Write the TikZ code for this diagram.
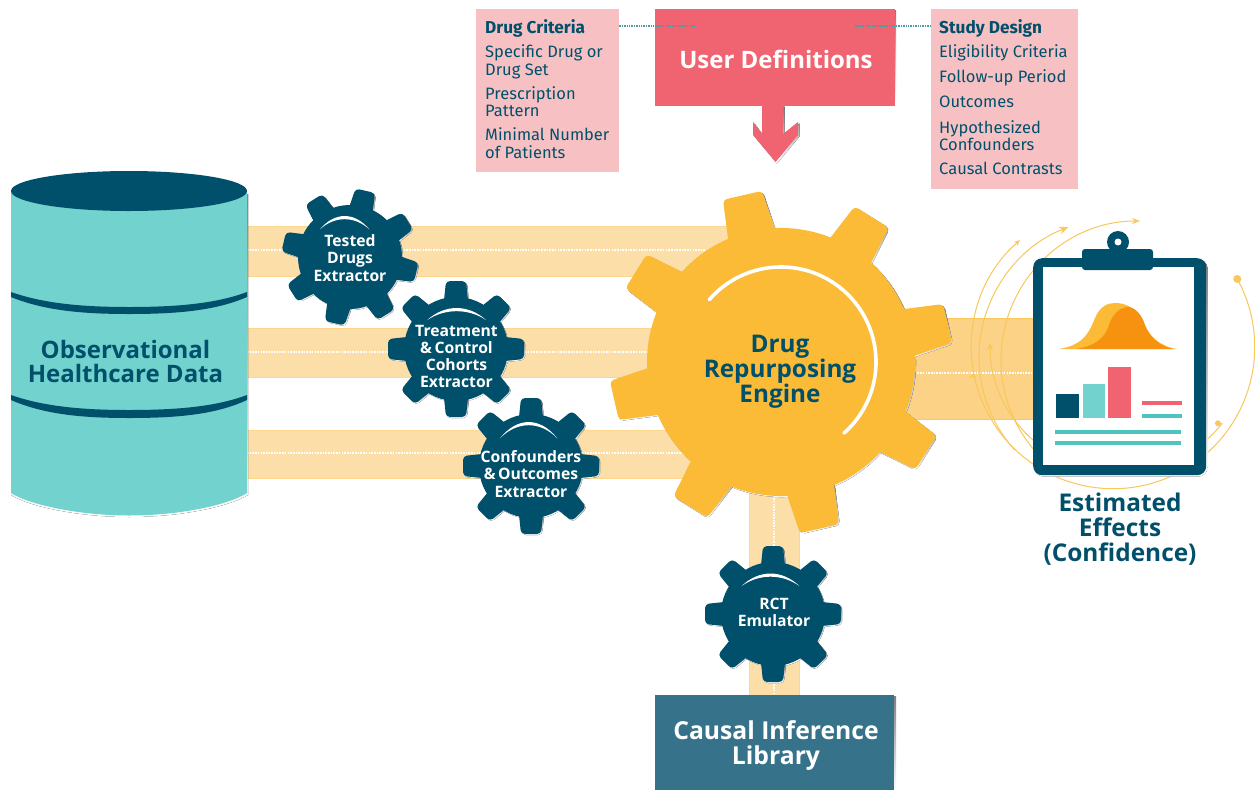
\documentclass[tikz,border=0pt]{standalone}
\usepackage{fontspec}
\setmainfont{Fira Sans}
\newfontfamily\labelfont{Open Sans}
\usetikzlibrary{arrows.meta,calc}
\definecolor{navy}{HTML}{00506B}
\definecolor{tealc}{HTML}{72D2CD}
\definecolor{tealline}{HTML}{4EC4BE}
\definecolor{sun}{HTML}{FBBB36}
\definecolor{orbitc}{HTML}{F9C75C}
\definecolor{redc}{HTML}{EF6470}
\definecolor{pinkc}{HTML}{F7C1C4}
\definecolor{libc}{HTML}{36738A}
\definecolor{bandc}{HTML}{FCDFA8}
\definecolor{bandedge}{HTML}{FBD68C}
\definecolor{bandr}{HTML}{FBD286}
\definecolor{orangec}{HTML}{F6920F}
\definecolor{shade}{HTML}{9A9A90}
\definecolor{linkc}{HTML}{4E9AA0}
\tikzset{
  bandh/.style={line width=1pt,draw=bandedge,double=bandc,double distance=#1},
  banddots/.style={draw=white,line width=1.6pt,dash pattern=on 1.6pt off 1.1pt},
  orbit/.style={draw=orbitc,line width=1pt},
  teach/.style={draw=tealline,line width=4pt},
  label/.style={inner sep=0pt,align=center},
  gearlabel/.style={inner sep=0pt,align=center,text=white,font=\labelfont\bfseries\fontsize{15.7}{17.2}\selectfont},
  listtext/.style={inner sep=0pt,align=left,text=navy,anchor=north west,font=\fontsize{16.5}{17.5}\selectfont},
  linkdots/.style={draw=linkc,line width=2pt,dash pattern=on 1.4pt off 1pt},
}
% #1 cx, #2 cy, #3 body radius, #4 tip radius, #5 tip width, #6 base width, #7 rotation, #8 colour
\newcommand\gearbody[8]{%
  \begin{scope}[shift={(#1pt,-#2pt)},x=1pt,y=1pt,rotate=#7]
    \fill[#8] (0,0) circle[radius=#3];
    \foreach \k in {0,45,...,315}{
      \fill[#8,rotate=\k,rounded corners=4pt]
        (#3-8,-#6/2) -- (#4,-#5/2) -- (#4,#5/2) -- (#3-8,#6/2) -- cycle;
    }
  \end{scope}}
\newcommand\geardraw[8]{%
  \gearbody{\the\numexpr#1+1\relax}{\the\numexpr#2+1\relax}{#3}{#4}{#5}{#6}{#7}{shade}
  \gearbody{#1}{#2}{#3}{#4}{#5}{#6}{#7}{#8}}
\newcommand\gearsmile[4]{%
  \fill[white] (#1,#3) .. controls ({#1+(#2-#1)*0.3},{#4-(#3-#4)*0.33}) and ({#2-(#2-#1)*0.3},{#4-(#3-#4)*0.33}) .. (#2,#3)
     .. controls ({#2-(#2-#1)*0.3},{#4-(#3-#4)*0.33+4.2}) and ({#1+(#2-#1)*0.3},{#4-(#3-#4)*0.33+4.2}) .. (#1,#3) -- cycle;}
\begin{document}
\begin{tikzpicture}[x=1pt,y=-1pt]
\useasboundingbox (0,0) rectangle (1255,790);
\fill[white] (0,0) rectangle (1255,790);

% named band ends
\coordinate (b1s) at (247,251); \coordinate (b1e) at (735,251);
\coordinate (b2s) at (247,352.5); \coordinate (b2e) at (660,352.5);
\coordinate (b3s) at (247,454); \coordinate (b3e) at (690,454);
\coordinate (brs) at (900,368.5); \coordinate (bre) at (1036,368.5);
\coordinate (bvs) at (774,490); \coordinate (bve) at (774,696);
\coordinate (d1s) at (247,250); \coordinate (d1e) at (705,250);
\coordinate (d2s) at (247,352); \coordinate (d2e) at (650,352);
\coordinate (d3s) at (247,453); \coordinate (d3e) at (685,453);
\coordinate (drs) at (912,373); \coordinate (dre) at (1032,373);

% bands
\draw[bandh=49pt] (b1s) -- (b1e);
\draw[bandh=48pt] (b2s) -- (b2e);
\draw[bandh=47pt] (b3s) -- (b3e);
\draw[line width=1pt,draw=orbitc,double=bandr,double distance=100pt] (brs) -- (bre);
\draw[bandh=49pt] (bvs) -- (bve);
\draw[banddots] (d1s) -- (d1e);
\draw[banddots] (d2s) -- (d2e);
\draw[banddots] (d3s) -- (d3e);
\draw[banddots] (drs) -- (dre);
\draw[banddots] (bvs) -- (bve);

% database cylinder
\fill[shade] (11,194) -- (11,495) .. controls (30,507) and (80,517) .. (129,517)
   .. controls (180,517) and (228,507) .. (248,495) -- (248,194) -- cycle;
\fill[tealc] (11,191) -- (11,493) .. controls (30,505) and (80,515.5) .. (129,515.5)
   .. controls (180,515.5) and (228,505) .. (247,493) -- (247,191) -- cycle;
\fill[navy] (129,191) ellipse[x radius=118,y radius=20];
\fill[navy] (11,292) .. controls (45,304) and (85,307) .. (129,307) .. controls (175,307) and (215,304) .. (247,292)
   -- (247,297) .. controls (215,311) and (175,314) .. (129,314) .. controls (85,314) and (45,311) .. (11,297) -- cycle;
\fill[navy] (11,395) .. controls (45,407) and (85,410) .. (129,410) .. controls (175,410) and (215,407) .. (247,395)
   -- (247,400) .. controls (215,415) and (175,418) .. (129,418) .. controls (85,418) and (45,415) .. (11,400) -- cycle;
\node[label,text=navy,font=\labelfont\bfseries\fontsize{24}{24.5}\selectfont] (obs) at (125.5,361.5) {Observational\\Healthcare Data};

% big gear
\geardraw{781}{362}{134}{171}{40}{49}{13}{sun}
\begin{scope}[shift={(781pt,-362pt)},x=1pt,y=1pt]
  \draw[white,line width=3.6pt,line cap=round] (139:95) arc[start angle=139,end angle=-48.5,radius=95];
\end{scope}
\node[label,text=navy,font=\labelfont\bfseries\fontsize{24.3}{25}\selectfont] (engine) at (780,371.5) {Drug\\Repurposing\\Engine};

% small gears
\geardraw{350}{257}{52}{68}{20}{25}{32}{navy}
\gearsmile{320}{369.3}{229.3}{216}
\node[gearlabel] (g1) at (350,258) {Tested\\Drugs\\Extractor};
\geardraw{456}{349}{52}{68}{20}{25}{0}{navy}
\gearsmile{427.3}{486}{320}{308}
\node[gearlabel] (g2) at (456.5,356.5) {Treatment\\\&\,Control\\Cohorts\\Extractor};
\geardraw{531}{466}{52}{68}{20}{25}{0}{navy}
\gearsmile{500}{557.3}{438.3}{422}
\node[gearlabel] (g3) at (531,474) {Confounders\\\&\,Outcomes\\Extractor};
\geardraw{773}{614}{52}{68}{20}{25}{0}{navy}
\gearsmile{741.7}{799.3}{586}{573.5}
\node[gearlabel] (g4) at (774,612.5) {RCT\\Emulator};

% library
\fill[shade] (656.5,696) rectangle (896,790);
\node[fill=libc,minimum width=239pt,minimum height=95pt,anchor=north west,inner sep=0pt] (lib) at (655,695) {};
\node[label,text=white,font=\labelfont\bfseries\fontsize{24.7}{25}\selectfont] (libt) at (776,745.5) {Causal Inference\\Library};

% user definitions
\fill[shade] (656.5,10) rectangle (896,107);
\fill[shade,shift={(1.5pt,-1.5pt)}] (762,105) -- (783,105) -- (783,134) -- (798,122) -- (798,135) -- (775.5,162) -- (753,135) -- (753,122) -- (762,134) -- cycle;
\node[fill=redc,minimum width=240pt,minimum height=97pt,anchor=north west,inner sep=0pt] (user) at (655,8.5) {};
\fill[redc] (762,105) -- (783,105) -- (783,134) -- (798,122) -- (798,135) -- (775.5,162) -- (753,135) -- (753,122) -- (762,134) -- cycle;
\node[label,text=white,font=\labelfont\bfseries\fontsize{24}{25}\selectfont] (usert) at (776,59) {User Definitions};

% side lists
\node[fill=pinkc,minimum width=143pt,minimum height=163pt,anchor=north west,inner sep=0pt] (drugbox) at (476,8.5) {};
\node[fill=pinkc,minimum width=147pt,minimum height=180pt,anchor=north west,inner sep=0pt] (studybox) at (931,8.5) {};
\coordinate (dL) at (695,26); \coordinate (dR) at (855,26);
\draw[linkdots] (drugbox.east |- dL) -- (dL);
\draw[linkdots] (studybox.west |- dR) -- (dR);
\node[listtext] (drugt) at (485,19.5) {\textbf{\fontsize{17.2}{17.5}\selectfont Drug Criteria}\\[6.5pt]Specific Drug or\\Drug Set\\[6.5pt]Prescription\\Pattern\\[6.5pt]Minimal Number\\of Patients};
\node[listtext] (studyt) at (939,19.5) {\textbf{\fontsize{17.2}{17.5}\selectfont Study Design}\\[6.5pt]Eligibility Criteria\\[7.5pt]Follow-up Period\\[7.5pt]Outcomes\\[8pt]Hypothesized\\Confounders\\[6.5pt]Causal Contrasts};

% orbits
\begin{scope}[x=1pt,y=1pt]
  \begin{scope}[shift={(1113pt,-347pt)}]
    \draw[orbit,-{Stealth[length=6pt,width=5pt]}] (28.7:141.7) arc[start angle=28.7,end angle=-229,radius=141.7];
    \fill[orbitc] (28.7:141.7) circle[radius=4];
    \fill[orbitc] (191:143) -- ++(-4,-3) -- ++(8,0) -- cycle;
  \end{scope}
  \begin{scope}[shift={(1118pt,-357pt)}]
    \draw[orbit,{Stealth[length=9pt,width=8pt]}-] (111:139) arc[start angle=111,end angle=222,radius=139];
  \end{scope}
  \begin{scope}[shift={(1140pt,-360pt)}]
    \draw[orbit,{Stealth[length=8pt,width=6pt]}-] (90:139) arc[start angle=90,end angle=222,radius=139];
  \end{scope}
  \begin{scope}[shift={(1117pt,-343pt)}]
    \draw[orbit,{Stealth[length=7pt,width=6pt]}-] (180:127) arc[start angle=180,end angle=322,radius=130];
    \fill[orbitc] (-38.5:129) circle[radius=3];
  \end{scope}
\end{scope}

% clipboard
\fill[shade,rounded corners=9pt] (1034.5,259.5) rectangle (1207.5,476.5);
\node[fill=navy,rounded corners=9pt,minimum width=173pt,minimum height=217pt,anchor=north west,inner sep=0pt] (clip) at (1033,258) {};
\fill[white] (1043,267) rectangle (1194,465);
\fill[navy] (1118,242) circle[radius=11];
\fill[white] (1118,242) circle[radius=3.5];
\fill[navy,rounded corners=3pt] (1082,249) rectangle (1153,270);
% bell curves
\fill[sun] (1059,349) .. controls (1085,345) and (1090,330) .. (1095,318) .. controls (1100,306) and (1108,303) .. (1115,303)
   .. controls (1125,303) and (1135,307) .. (1142,320) .. controls (1150,338) and (1160,346) .. (1177,349) -- cycle;
\fill[orangec] (1076,349) .. controls (1095,346) and (1105,338) .. (1109,325) .. controls (1113,312) and (1122,307) .. (1128,307)
   .. controls (1135,307) and (1142,315) .. (1145,325) .. controls (1150,338) and (1160,346) .. (1173,349) -- cycle;
% bars
\fill[navy] (1056,394) rectangle (1079,418);
\fill[tealc] (1083,384) rectangle (1105,418);
\fill[redc] (1108,367) rectangle (1131,418);
\draw[redc,line width=4pt] (1142,403) -- (1182,403);
\draw[teach] (1142,416) -- (1182,416);
\draw[teach] (1055,432) -- (1181,432);
\draw[teach] (1055,443) -- (1181,443);

\node[label,text=navy,font=\labelfont\bfseries\fontsize{24.4}{25}\selectfont] (effects) at (1120,529.5) {Estimated\\Effects\\(Confidence)};
\end{tikzpicture}
\end{document}
